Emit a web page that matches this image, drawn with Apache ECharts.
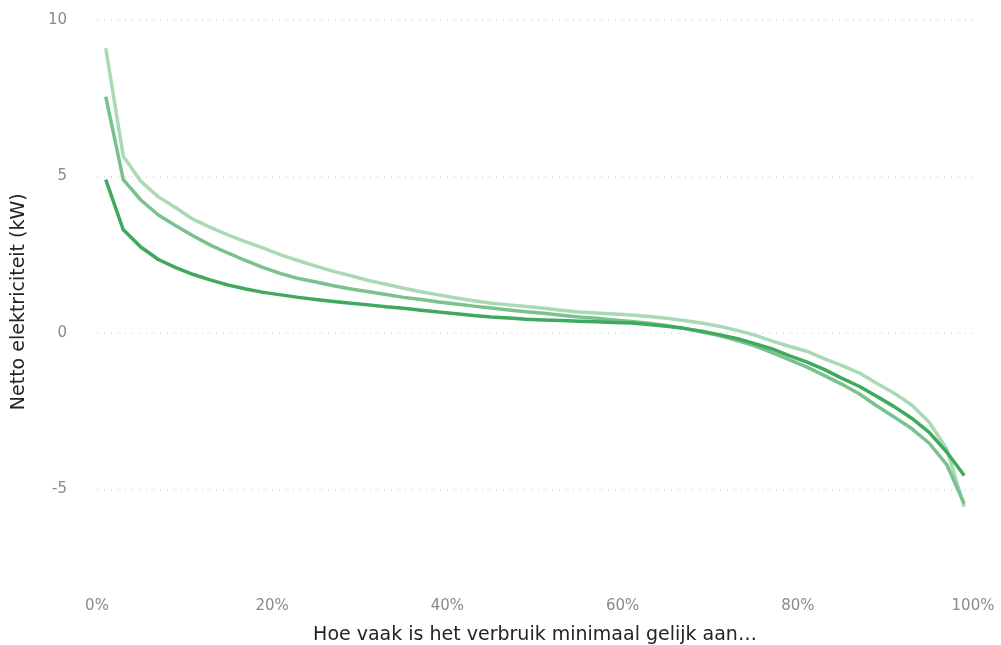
<!DOCTYPE html>
<html>
<head>
<meta charset="utf-8">
<script src="https://cdn.jsdelivr.net/npm/echarts@6/dist/echarts.min.js"></script>
<style>
html, body { margin: 0; padding: 0; background: #fff; }
#chart { width: 1001px; height: 645px; }
</style>
</head>
<body>
<div id="chart"></div>
<script>
// x posities (fractie), 1% .. 99% in stappen van 2%
var pct = [];
for (var p = 1; p <= 99; p += 2) pct.push(p / 100);

// donkergroen
var serieDonker = [4.9, 3.3, 2.75, 2.35, 2.09, 1.87, 1.69, 1.53, 1.41, 1.30,
	1.22, 1.14, 1.07, 1.01, 0.95, 0.90, 0.84, 0.79, 0.73, 0.67,
	0.62, 0.56, 0.51, 0.48, 0.44, 0.42, 0.40, 0.38, 0.36, 0.34,
	0.32, 0.27, 0.22, 0.15, 0.06, -0.05, -0.17, -0.33, -0.5, -0.72,
	-0.92, -1.16, -1.44, -1.70, -2.02, -2.35, -2.72, -3.17, -3.80, -4.55];
// middengroen
var serieMidden = [7.55, 4.9, 4.25, 3.77, 3.43, 3.1, 2.8, 2.55, 2.31, 2.09,
	1.9, 1.74, 1.63, 1.51, 1.41, 1.32, 1.23, 1.14, 1.07, 0.99,
	0.93, 0.86, 0.80, 0.74, 0.68, 0.63, 0.57, 0.51, 0.47, 0.42,
	0.37, 0.31, 0.24, 0.15, 0.04, -0.08, -0.23, -0.40, -0.62, -0.85,
	-1.08, -1.35, -1.63, -1.94, -2.32, -2.68, -3.05, -3.52, -4.2, -5.45];
// lichtgroen
var serieLicht = [9.1, 5.65, 4.85, 4.35, 4.0, 3.63, 3.37, 3.13, 2.91, 2.71,
	2.5, 2.31, 2.14, 1.97, 1.83, 1.68, 1.56, 1.43, 1.32, 1.22,
	1.12, 1.03, 0.95, 0.90, 0.85, 0.79, 0.73, 0.67, 0.64, 0.61,
	0.58, 0.53, 0.47, 0.40, 0.32, 0.22, 0.09, -0.06, -0.25, -0.42,
	-0.58, -0.82, -1.03, -1.27, -1.6, -1.92, -2.3, -2.85, -3.7, -5.55];

var xTicks = [0, 0.2, 0.4, 0.6, 0.8, 1];
var yTicks = [-5, 0, 5, 10];

function koppel(ys) {
	var out = [];
	for (var i = 0; i < pct.length; i++) out.push([pct[i], ys[i]]);
	return out;
}

var font = '"DejaVu Sans", sans-serif';
var grijs = '#8a8a8a';

function lijn(naam, kleur, data) {
	return {
		name: naam,
		type: 'line',
		data: koppel(data),
		showSymbol: false,
		lineStyle: { color: kleur, width: 3.5 },
		itemStyle: { color: kleur }
	};
}

var option = {
	animation: false,
	grid: { left: 97, right: 28, top: 20, bottom: 61.5, outerBoundsMode: 'none', containLabel: false },
	xAxis: {
		type: 'value',
		min: 0,
		max: 1,
		name: 'Hoe vaak is het verbruik minimaal gelijk aan…',
		nameLocation: 'middle',
		nameGap: 42,
		nameTextStyle: { color: '#252423', fontSize: 19, fontFamily: font },
		axisLine: { show: false },
		axisTick: { show: false, customValues: xTicks },
		splitLine: { show: false },
		axisLabel: {
			customValues: xTicks,
			margin: 15,
			color: grijs,
			fontSize: 15,
			fontFamily: font,
			formatter: function (v) { return Math.round(v * 100) + '%'; }
		}
	},
	yAxis: {
		type: 'value',
		min: -8,
		max: 10,
		name: 'Netto elektriciteit (kW)',
		nameLocation: 'middle',
		nameGap: 68,
		nameTextStyle: { color: '#252423', fontSize: 19, fontFamily: font },
		axisLine: { show: false },
		axisTick: { show: false, customValues: yTicks },
		axisLabel: {
			customValues: yTicks,
			margin: 30,
			color: grijs,
			fontSize: 15,
			fontFamily: font
		},
		splitLine: {
			lineStyle: { color: '#d6d6d6', type: [1, 6], width: 1.5 }
		}
	},
	series: [
		lijn('licht', '#a9d9b5', serieLicht),
		lijn('midden', '#79c28e', serieMidden),
		lijn('donker', '#3fa95e', serieDonker)
	]
};

var chart = echarts.init(document.getElementById('chart'));
chart.setOption(option);
</script>
</body>
</html>
